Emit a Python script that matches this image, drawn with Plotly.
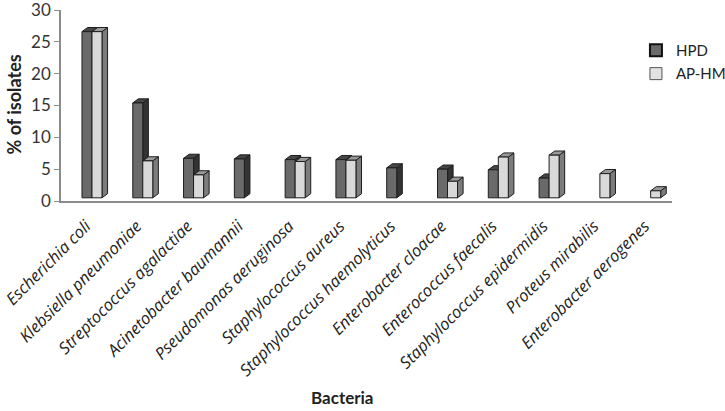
import plotly.graph_objects as go

categories = ["Escherichia coli", "Klebsiella pneumoniae", "Streptococcus agalactiae",
              "Acinetobacter baumannii", "Pseudomonas aeruginosa", "Staphylococcus aureus",
              "Staphylococcus haemolyticus", "Enterobacter cloacae", "Enterococcus faecalis",
              "Staphylococcus epidermidis", "Proteus mirabilis", "Enterobacter aerogenes"]
hpd = [26.6, 15.4, 6.7, 6.6, 6.5, 6.5, 5.2, 5.0, 4.9, 3.6, 0, 0]
aphm = [26.6, 6.3, 4.1, 0, 6.2, 6.4, 0, 3.1, 6.9, 7.2, 4.3, 1.6]
y_ticks = [0, 5, 10, 15, 20, 25, 30]

# 3D look parameters (data units)
W = 0.197      # front face width
DX = 0.11      # depth offset x
DY = 0.65      # depth offset y
BASE = 0.5     # floor offset

def faces(vals, x0):
    fx, fy, tx, ty, sx, sy = [], [], [], [], [], []
    for i, v in enumerate(vals):
        if v <= 0:
            continue
        xl = i + x0
        xr = xl + W
        fx += [xl, xr, xr, xl, xl, None]
        fy += [BASE, BASE, v, v, BASE, None]
        tx += [xl, xr, xr + DX, xl + DX, xl, None]
        ty += [v, v, v + DY, v + DY, v, None]
        sx += [xr, xr + DX, xr + DX, xr, xr, None]
        sy += [BASE, BASE + DY, v + DY, v, BASE, None]
    return (fx, fy), (tx, ty), (sx, sy)

fig = go.Figure()
edge = dict(color="#1e1e1e", width=1)

series = [
    ("HPD", hpd, -W, "#6a6a6a", "#464646", "#333333"),
    ("AP-HM", aphm, 0.0, "#d9d9d9", "#9a9a9a", "#7c7c7c"),
]
for name, vals, x0, cf, ct, cs in series:
    (fx, fy), (tx, ty), (sx, sy) = faces(vals, x0)
    for (xx, yy, col) in [(sx, sy, cs), (tx, ty, ct), (fx, fy, cf)]:
        fig.add_trace(go.Scatter(x=xx, y=yy, mode="lines", fill="toself",
                                 fillcolor=col, line=edge, showlegend=False,
                                 hoverinfo="skip", cliponaxis=False))

# legend entries
fig.add_trace(go.Bar(x=[None], y=[None], name="HPD", legendgroup="a",
                     marker=dict(color="#6a6a6a", line=dict(color="#111111", width=2))))
fig.add_trace(go.Bar(x=[None], y=[None], name="AP-HM", legendgroup="b",
                     marker=dict(color="#e2e2e2", line=dict(color="#555555", width=1))))

fig.update_layout(
    width=725, height=411,
    margin=dict(l=61, r=53, t=10, b=210, autoexpand=False),
    paper_bgcolor="white", plot_bgcolor="white",
    font=dict(family="Lato", color="#222222"),
    showlegend=True,
    legend=dict(x=0.941, y=0.875, xanchor="left", yanchor="top",
                itemwidth=30,
                font=dict(size=15, family="Lato", color="#222"),
                tracegroupgap=1, bgcolor="rgba(0,0,0,0)"),
    xaxis=dict(range=[-0.61, 11.42], tickmode="array", automargin=False,
               tickvals=list(range(len(categories))), ticktext=categories,
               tickangle=-45, showgrid=False, zeroline=False,
               showline=True, linecolor="#8c8c8c", linewidth=2,
               ticks="outside", ticklen=7, tickcolor="rgba(0,0,0,0)",
               ticklabelshift=-6,
               tickfont=dict(family="Open Sans", size=16.5, style="italic", color="#222")),
    yaxis=dict(range=[0, 30], tickmode="array", tickvals=y_ticks, automargin=False,
               showgrid=False, zeroline=False, showline=True,
               linecolor="#8c8c8c", linewidth=1.5, ticks="outside",
               ticklen=5, tickcolor="#8c8c8c", ticklabeloverflow="allow",
               tickfont=dict(family="Lato", size=17, color="#333")),
    annotations=[
        dict(text="Bacteria", xref="paper", yref="paper", x=0.461, y=-1.03,
             xanchor="center", yanchor="middle",
             showarrow=False, font=dict(size=17, family="Lato", weight="bold", color="#222")),
        dict(text="% of isolates", xref="paper", yref="paper", x=-0.077, y=0.505,
             xanchor="center", yanchor="middle",
             textangle=-90, showarrow=False,
             font=dict(size=18, family="Lato", weight="bold", color="#222")),
    ],
)

fig.write_html("out.html", config={"displayModeBar": False},
               post_script="document.body.style.margin='0';document.body.style.padding='0';")
